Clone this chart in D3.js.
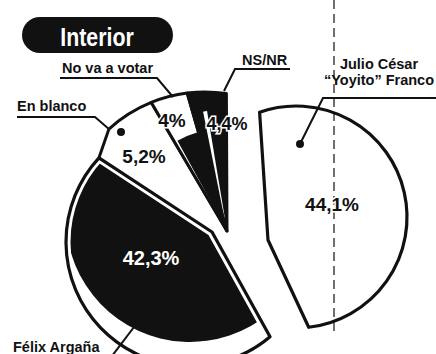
<!DOCTYPE html>
<html>
<head>
<meta charset="utf-8">
<script src="https://cdn.jsdelivr.net/npm/d3@7"></script>
<style>
  html, body { margin: 0; padding: 0; background: #fff; }
  svg { display: block; }
  text { font-family: "Liberation Sans Narrow", "Liberation Sans", Arial, sans-serif; font-weight: bold; }
</style>
</head>
<body>
<svg id="chart" width="436" height="354"></svg>
<script>
// ---- data ----
const title = "Interior";
const categories = ["Félix Argaña", "En blanco", "No va a votar", "NS/NR", "Julio César \u201cYoyito\u201d Franco"];
const values = [42.3, 5.2, 4, 4.4, 44.1];
const valueLabels = ["42,3%", "5,2%", "4%", "4,4%", "44,1%"];
const nameLines = [["Félix Argaña"], ["En blanco"], ["No va a votar"], ["NS/NR"], ["Julio César", "\u201cYoyito\u201d Franco"]];
const sliceGroup = ["main", "small", "small", "small", "split"];

// ---- layout ----
const INK = "#111";
const deg = Math.PI / 180;

// each group of wedges: apex, centre and radius of its rim, and a small turn
const groups = {
  main:  { apex: [212, 232], center: [190, 242], r: 124, turn: -4 * deg },
  small: { apex: [227, 231], center: [205, 235], r: 143, turn: 3.5 * deg },
  split: { apex: [268, 240], center: [296, 217], r: 111, turn: 0 }
};

const svg = d3.select("#chart");

const pie = d3.pie().sort(null).value(d => d)
  .startAngle(155 * deg).endAngle(155 * deg + 2 * Math.PI);
const arcs = pie(values);

// point where a ray from the apex meets the group's rim
function rimPoint(a, g) {
  const [px, py] = g.apex, [qx, qy] = g.center, r = g.r;
  const dx = Math.sin(a), dy = -Math.cos(a);
  const ox = px - qx, oy = py - qy;
  const b = ox * dx + oy * dy, c = ox * ox + oy * oy - r * r;
  const t = -b + Math.sqrt(b * b - c);
  return [px + t * dx, py + t * dy];
}

// wedge from the apex, outer edge on the group's rim circle
function wedge(a0, a1, g, opts = {}) {
  const [px, py] = g.apex, [qx, qy] = g.center;
  const p0 = rimPoint(a0, g), p1 = rimPoint(a1, g);
  const t0 = Math.atan2(p0[1] - qy, p0[0] - qx);
  const t1 = Math.atan2(p1[1] - qy, p1[0] - qx);
  const p = d3.path();
  if (opts.open) {
    p.moveTo(p0[0], p0[1]);
  } else {
    p.moveTo(px, py);
    p.lineTo(p0[0], p0[1]);
  }
  p.arc(qx, qy, g.r, t0, t1, false);
  p.lineTo(px, py);
  if (!opts.open) p.closePath();
  return p.toString();
}

function shifted(g, dx, dy) {
  return { apex: [g.apex[0] + dx, g.apex[1] + dy], center: [g.center[0] + dx, g.center[1] + dy], r: g.r, turn: g.turn };
}

const angles = arcs.map((d, i) => {
  const t = groups[sliceGroup[i]].turn;
  return [d.startAngle + t, d.endAngle + t];
});

const defs = svg.append("defs");

// ---- title pill ----
svg.append("rect").attr("x", 22).attr("y", 17).attr("width", 151).attr("height", 36)
  .attr("rx", 18).attr("fill", INK);
svg.append("text").attr("x", 97).attr("y", 46).attr("text-anchor", "middle")
  .attr("fill", "#fff").attr("font-size", 26)
  .attr("transform", "translate(97,0) scale(0.82,1) translate(-97,0)")
  .text(title);

// ---- dashed guide through the detached slice ----
svg.append("line").attr("x1", 334).attr("x2", 334).attr("y1", 0).attr("y2", 336)
  .attr("stroke", INK).attr("stroke-width", 1.2).attr("stroke-dasharray", "9,5");

// ---- "En blanco" fills the space down to the main slice's top edge ----
const gMain = groups.main, gSmall = groups.small;
const mainCorner = rimPoint(angles[0][1], gMain);
const blancoStart = rimPoint(angles[1][0], gSmall);
svg.append("path")
  .attr("d", d3.line()([gSmall.apex, blancoStart, mainCorner, gMain.apex]) + "Z")
  .attr("fill", "#fff");

// ---- main slice (Félix Argaña): dark top face with a white rim ----
{
  const [a0, a1] = angles[0];
  const outer = wedge(a0, a1, gMain);
  defs.append("clipPath").attr("id", "clipMain").append("path").attr("d", outer);
  svg.append("path").attr("d", outer).attr("fill", "#fff");
  svg.append("path").attr("d", wedge(a0, a1, shifted(gMain, 0, -24)))
    .attr("fill", INK).attr("clip-path", "url(#clipMain)");
  svg.append("path").attr("d", outer).attr("fill", "none")
    .attr("stroke", "#fff").attr("stroke-width", 9).attr("clip-path", "url(#clipMain)");
  svg.append("path").attr("d", outer).attr("fill", "none")
    .attr("stroke", INK).attr("stroke-width", 3.2).attr("stroke-linejoin", "round");
}

// ---- small slices ----
arcs.forEach((d, i) => {
  if (sliceGroup[i] !== "small") return;
  const [a0, a1] = angles[i];
  const span = a1 - a0;
  const dark = categories[i] === "NS/NR";
  svg.append("path").attr("d", wedge(a0, a1, gSmall)).attr("fill", dark ? INK : "#fff");
  if (categories[i] === "No va a votar") {
    // shaded side of the wedge
    const inner = { apex: gSmall.apex, center: gSmall.apex, r: gSmall.r * 0.72 };
    svg.append("path").attr("d", wedge(a0 + span * 0.12, a1, inner)).attr("fill", INK);
  }
  if (dark) {
    const inner = { apex: gSmall.apex, center: gSmall.apex, r: gSmall.r * 0.85 };
    svg.append("path").attr("d", wedge(a0 + span * 0.3, a0 + span * 0.42, inner)).attr("fill", "#fff");
  }
  const first = categories[i] === "En blanco";
  svg.append("path").attr("d", wedge(a0, a1, gSmall, { open: first })).attr("fill", "none")
    .attr("stroke", INK).attr("stroke-width", 3).attr("stroke-linejoin", "round");
  if (first) {
    svg.append("path").attr("d", d3.line()([blancoStart, mainCorner])).attr("fill", "none")
      .attr("stroke", INK).attr("stroke-width", 3);
  }
});

// ---- detached slice (Franco) ----
{
  const [a0, a1] = angles[4];
  svg.append("path").attr("d", wedge(a0, a1, groups.split))
    .attr("fill", "none")
    .attr("stroke", INK).attr("stroke-width", 3.2).attr("stroke-linejoin", "round");
}

// ---- value labels ----
const valuePos = [[151, 265, "#fff", 20], [144, 163, INK, 19], [172, 127, INK, 19], [227, 130, INK, 18], [332, 211, INK, 19]];
valueLabels.forEach((t, i) => {
  const [x, y, col, fs] = valuePos[i];
  svg.append("text").attr("x", x).attr("y", y).attr("text-anchor", "middle")
    .attr("font-size", fs).attr("fill", col)
    .attr("stroke", col === INK ? "#fff" : "none").attr("stroke-width", 3)
    .attr("paint-order", "stroke")
    .text(t);
});

// ---- category labels with leader lines ----
const namePos = [
  { x: 13, y: 352, anchor: "start" },
  { x: 17, y: 111, anchor: "start" },
  { x: 62, y: 73, anchor: "start" },
  { x: 242, y: 65, anchor: "start" },
  { x: 379, y: 69, anchor: "middle", dy: 16 }
];
nameLines.forEach((lines, i) => {
  const p = namePos[i];
  lines.forEach((ln, k) => {
    svg.append("text").attr("x", p.x).attr("y", p.y + k * (p.dy || 0))
      .attr("text-anchor", p.anchor).attr("font-size", 14.5).attr("fill", INK)
      .text(ln);
  });
});

const leaders = [
  [[112, 356], [153, 302]],
  [[17, 117], [95, 117], blancoStart],
  [[60, 78], [157, 78], [173, 97]],
  [[290, 69], [235, 69], [224, 91]],
  [[436, 98], [323, 98], [300, 144]]
];
leaders.forEach(pts => {
  svg.append("path").attr("d", d3.line()(pts)).attr("fill", "none")
    .attr("stroke", INK).attr("stroke-width", 2);
});
[[121, 132], [300, 144]].forEach(([x, y]) => {
  svg.append("circle").attr("cx", x).attr("cy", y).attr("r", 4).attr("fill", INK);
});
</script>
</body>
</html>
